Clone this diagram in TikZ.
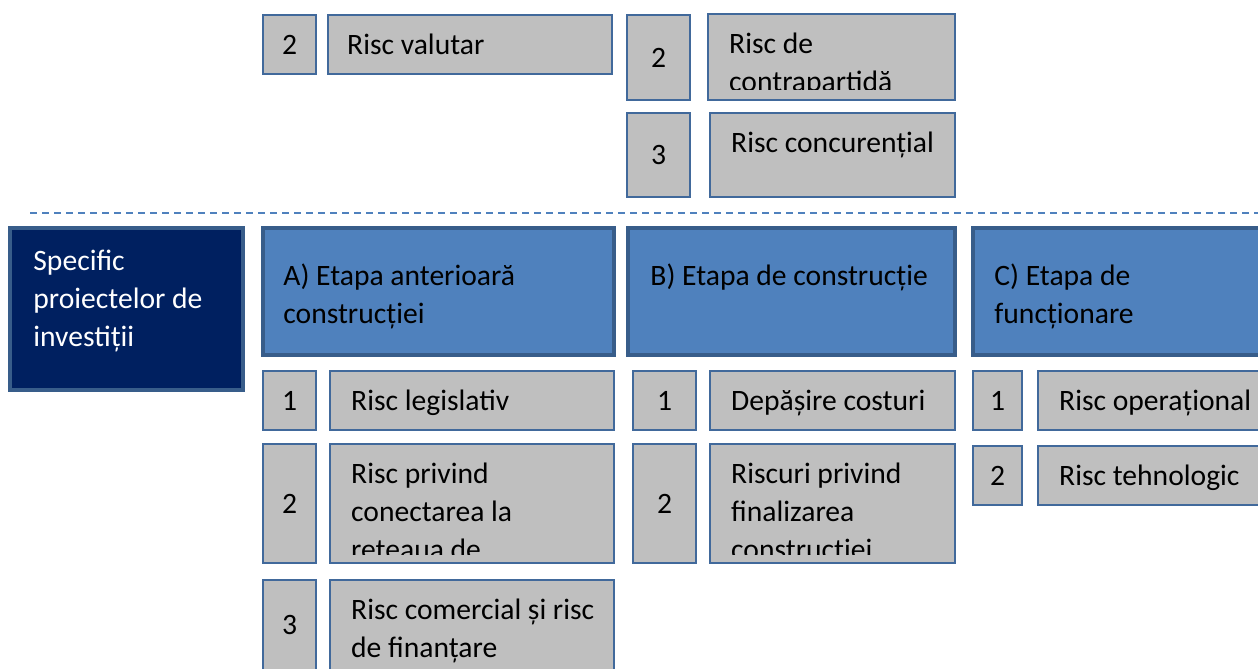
\documentclass[tikz,border=0pt]{standalone}
\usepackage{fontspec}
\setmainfont{Carlito}
\usetikzlibrary{fit}
\definecolor{riskgray}{RGB}{191,191,191}
\definecolor{riskline}{RGB}{65,105,155}
\definecolor{stageblue}{RGB}{79,129,189}
\definecolor{stageline}{RGB}{56,93,138}
\definecolor{specnavy}{RGB}{0,32,96}
\newcommand{\riskfont}{\fontsize{14.8}{19}\selectfont}

\begin{document}
\begin{tikzpicture}[x=0.5pt, y=-0.5pt,
		nbox/.style={draw=riskline, fill=riskgray, line width=1.2pt, inner sep=0pt},
		sbox/.style={draw=stageline, fill=stageblue, line width=2pt, inner sep=0pt},
		spbox/.style={draw=stageline, fill=specnavy, line width=2pt, inner sep=0pt},
		txt/.style={anchor=north west, inner sep=0pt, align=left, font=\riskfont},
		num/.style={inner sep=0pt, font=\riskfont},
		sepline/.style={draw=stageblue, line width=0.8pt, dash pattern=on 3.5pt off 2.5pt}]
	\useasboundingbox (0,0) rectangle (1258,669);
	\clip (0,0) rectangle (1258,669);

	% upper part
	\node[nbox, fit={(263,15) (316,74)}] (u2a) {};
	\node[nbox, fit={(328,15) (612,74)}] (val) {};
	\node[nbox, fit={(627,15) (690,100)}] (u2b) {};
	\node[nbox, fit={(708,14) (955,100)}] (ctr) {};
	\node[nbox, fit={(627,113) (690,197)}] (u3b) {};
	\node[nbox, fit={(710,113) (955,197)}] (conc) {};
	\node[num] at (u2a) {2};
	\node[num] at (u2b) {2};
	\node[num] at (u3b) {3};
	\node[txt] at ([shift={(20,13.4)}]val.north west) {\strut Risc valutar};
	\begin{scope}
		\clip (ctr.north west) rectangle ([yshift=6pt]ctr.south east);
		\node[txt] at ([shift={(22,13.4)}]ctr.north west) {\strut Risc de\\contrapartidă};
	\end{scope}
	\node[txt] at ([shift={(22,13.4)}]conc.north west) {\strut Risc concurențial};

	\coordinate (dl) at (30,213);
	\coordinate (dr) at (1258,213);
	\draw[sepline] (dl) -- (dr);

	% stages
	\node[spbox, fit={(10,228) (243,390)}] (spec) {};
	\node[txt, text=white] at ([shift={(25,17)}]spec.north west) {\strut Specific\\proiectelor de\\investiții};
	\node[sbox, fit={(263,228) (614,355)}] (sa) {};
	\node[sbox, fit={(628,228) (955,355)}] (sb) {};
	\node[sbox, fit={(973,228) (1275,355)}] (sc) {};
	\node[txt] at ([shift={(22,32)}]sa.north west) {\strut A) Etapa anterioară\\construcției};
	\node[txt] at ([shift={(24,32)}]sb.north west) {\strut B) Etapa de construcție};
	\node[txt] at ([shift={(23,32)}]sc.north west) {\strut C) Etapa de\\funcționare};

	% A
	\node[nbox, fit={(263,371) (316,430)}] (a1) {};
	\node[nbox, fit={(330,371) (614,430)}] (leg) {};
	\node[nbox, fit={(263,444) (316,563)}] (a2) {};
	\node[nbox, fit={(330,444) (614,563)}] (con) {};
	\node[nbox, fit={(263,580) (316,690)}] (a3) {};
	\node[nbox, fit={(330,580) (614,690)}] (com) {};
	\node[num] at (a1) {1};
	\node[num] at (a2) {2};
	\node[num] at ([yshift=-23pt]a3.north) {3};
	\node[txt] at ([shift={(22,13.4)}]leg.north west) {\strut Risc legislativ};
	\begin{scope}
		\clip (con.north west) rectangle ([yshift=5pt]con.south east);
		\node[txt] at ([shift={(22,13.4)}]con.north west) {\strut Risc privind\\conectarea la\\rețeaua de};
	\end{scope}
	\node[txt] at ([shift={(22,13.4)}]com.north west) {\strut Risc comercial și risc\\de finanțare};

	% B
	\node[nbox, fit={(633,371) (696,430)}] (b1) {};
	\node[nbox, fit={(710,371) (955,430)}] (dep) {};
	\node[nbox, fit={(633,444) (696,563)}] (b2) {};
	\node[nbox, fit={(710,444) (955,563)}] (fin) {};
	\node[num] at (b1) {1};
	\node[num] at (b2) {2};
	\node[txt] at ([shift={(22,13.4)}]dep.north west) {\strut Depășire costuri};
	\begin{scope}
		\clip (fin.north west) rectangle ([yshift=5pt]fin.south east);
		\node[txt] at ([shift={(22,13.4)}]fin.north west) {\strut Riscuri privind\\finalizarea\\construcției};
	\end{scope}

	% C
	\node[nbox, fit={(973,371) (1022,430)}] (c1) {};
	\node[nbox, fit={(1038,371) (1275,430)}] (op) {};
	\node[nbox, fit={(973,446) (1022,505)}] (c2) {};
	\node[nbox, fit={(1038,446) (1275,505)}] (teh) {};
	\node[num] at (c1) {1};
	\node[num] at (c2) {2};
	\node[txt] at ([shift={(22,13.4)}]op.north west) {\strut Risc operațional};
	\node[txt] at ([shift={(22,13.4)}]teh.north west) {\strut Risc tehnologic};
\end{tikzpicture}
\end{document}
